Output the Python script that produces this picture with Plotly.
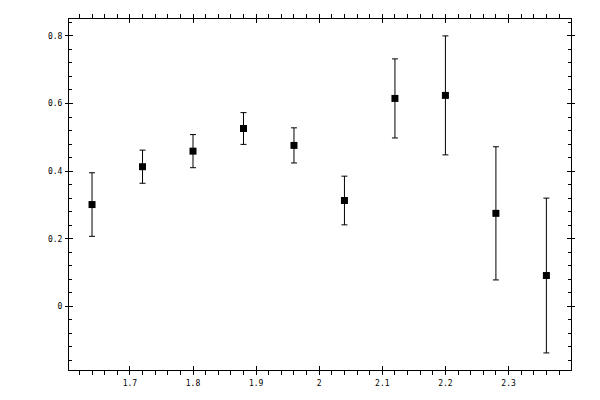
"""
Error-bar scatter, old-style framed axes with crossing major ticks
"""
import plotly.graph_objects as go

# data
x_vals = [1.64, 1.72, 1.80, 1.88, 1.96, 2.04, 2.12, 2.20, 2.28, 2.36]
y_vals = [0.301, 0.413, 0.459, 0.526, 0.476, 0.313, 0.615, 0.624, 0.275, 0.091]
y_err = [0.094, 0.049, 0.049, 0.047, 0.052, 0.072, 0.117, 0.176, 0.197, 0.229]

x_range = [1.6035, 2.399]
y_range = [-0.1885, 0.85]

fig = go.Figure()

fig.add_trace(
    go.Scatter(x=x_vals, y=y_vals, mode='markers',
               marker=dict(symbol='square', size=7, color='black'),
               error_y=dict(type='data', array=y_err, color='black',
                            thickness=1, width=3),
               showlegend=False)
)

# empty trace so the overlay axes (other half of major ticks) get drawn
fig.add_trace(go.Scatter(x=[], y=[], xaxis='x2', yaxis='y2', showlegend=False))

font = dict(family='DejaVu Sans Mono', size=8, color='black')

# page body adds an 8px offset, margins compensate for it
fig.update_layout(
    template='none',
    width=592, height=392,
    margin=dict(l=61, r=29, t=11, b=30, autoexpand=False),
    paper_bgcolor='white', plot_bgcolor='white',
    font=font,
    xaxis=dict(range=x_range, dtick=0.1, tick0=0, showgrid=False, zeroline=False,
               showline=True, linecolor='black', linewidth=1, mirror='ticks',
               ticks='outside', ticklen=4, tickwidth=1, tickcolor='black',
               minor=dict(dtick=0.02, tick0=0, ticks='outside', ticklen=4,
                          tickwidth=1, tickcolor='black', showgrid=False),
               ticklabelstandoff=1, automargin=False),
    yaxis=dict(range=y_range, dtick=0.2, tick0=0, showgrid=False, zeroline=False,
               showline=True, linecolor='black', linewidth=1, mirror='ticks',
               ticks='inside', ticklen=4, tickwidth=1, tickcolor='black',
               minor=dict(dtick=0.04, tick0=0, ticks='inside', ticklen=3,
                          tickwidth=1, tickcolor='black', showgrid=False),
               ticklabelstandoff=4, automargin=False),
    xaxis2=dict(overlaying='x', anchor='y', side='bottom', range=x_range,
                dtick=0.1, tick0=0, showgrid=False, zeroline=False,
                showticklabels=False, mirror='ticks', showline=False,
                ticks='inside', ticklen=4, tickwidth=1, tickcolor='black',
                automargin=False),
    yaxis2=dict(overlaying='y', anchor='x', side='left', range=y_range,
                dtick=0.2, tick0=0, showgrid=False, zeroline=False,
                showticklabels=False, mirror='ticks', showline=False,
                ticks='outside', ticklen=3, tickwidth=1, tickcolor='black',
                automargin=False),
)

fig.write_html("out.html")
